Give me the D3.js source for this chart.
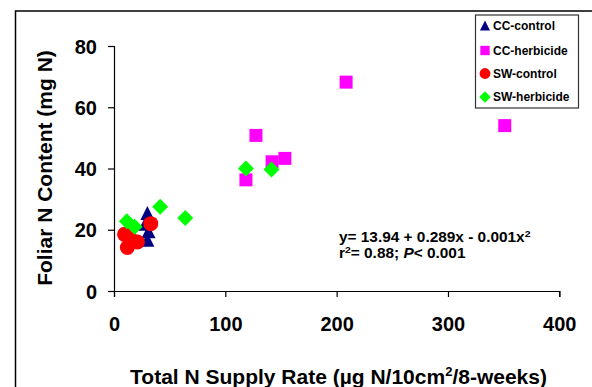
<!DOCTYPE html>
<html>
<head>
  <meta charset="utf-8">
  <script src="https://d3js.org/d3.v7.min.js"></script>
  <style>
    body { margin: 0; background: #fff; }
    text { font-family: "Liberation Sans", Arial, sans-serif; font-weight: bold; fill: #000; }
  </style>
</head>
<body>
<script type="text/javascript">

// values
var ccControlX = [30, 28, 31, 30],
    ccControlY = [25.5, 22, 19.5, 16.7];
var ccHerbX = [118.5, 127.5, 142, 153.5, 208.5, 351],
    ccHerbY = [36.3, 50.8, 42.2, 43.3, 68.2, 54.0];
var swControlX = [9.5, 12, 15, 21, 33],
    swControlY = [18.5, 14.2, 17, 16, 22];
var swHerbX = [11.5, 18.5, 41.5, 64, 118.5, 141.5],
    swHerbY = [22.8, 21, 27.5, 23.8, 40, 39.7];

var xTicks = [0, 100, 200, 300, 400],
    yTicks = [0, 20, 40, 60, 80];
var seriesNames = ["CC-control", "CC-herbicide", "SW-control", "SW-herbicide"];

function draw() {
    "use strict";
    var width = 592, height = 387;

    var svg = d3.select("body")
        .append("svg")
        .attr("width", width)
        .attr("height", height);

    // outer chart frame (runs off the bottom / right)
    svg.append("rect")
        .attr("x", 15.5)
        .attr("y", 11)
        .attr("width", 620)
        .attr("height", 420)
        .style("fill", "none")
        .style("stroke", "#000")
        .style("stroke-width", 1.5);

    var x = d3.scaleLinear().domain([0, 400]).range([114, 559.3]);
    var y = d3.scaleLinear().domain([0, 80]).range([291, 46]);

    // axes
    var xAxis = svg.append("g")
        .attr("transform", "translate(0," + y(0) + ")")
        .call(d3.axisBottom(x).tickValues(xTicks).tickSize(6).tickPadding(20));
    var yAxis = svg.append("g")
        .attr("transform", "translate(" + x(0) + ",0)")
        .call(d3.axisLeft(y).tickValues(yTicks).tickSize(6).tickPadding(11));

    [xAxis, yAxis].forEach(function (g) {
        g.select(".domain").style("stroke", "#000").style("stroke-width", 1.2);
        g.selectAll(".tick line").style("stroke", "#000").style("stroke-width", 1.2);
        g.selectAll(".tick text")
            .style("font-family", "'Liberation Sans', Arial, sans-serif")
            .style("font-weight", "bold")
            .style("font-size", "20px")
            .style("fill", "#000");
    });
    yAxis.selectAll(".tick text").attr("dy", "0.36em");

    // axis titles
    var xt = svg.append("text")
        .attr("x", 338.5)
        .attr("y", 384)
        .style("text-anchor", "middle")
        .style("font-size", "21px");
    xt.append("tspan").text("Total N Supply Rate (\u00b5g N/10cm");
    xt.append("tspan").attr("dy", -8).style("font-size", "13px").text("2");
    xt.append("tspan").attr("dy", 8).text("/8-weeks)");

    svg.append("text")
        .attr("transform", "translate(52," + 168 + ") rotate(-90)")
        .style("text-anchor", "middle")
        .style("font-size", "21px")
        .text("Foliar N Content (mg N)");

    // marker shapes
    function triangle(s) { return "M0," + (-s / 2) + "L" + (s / 2) + "," + (s / 2) + "L" + (-s / 2) + "," + (s / 2) + "Z"; }
    function square(s) { return "M" + (-s / 2) + "," + (-s / 2) + "h" + s + "v" + s + "h" + (-s) + "Z"; }
    function diamond(s) { return "M0," + (-s / 2) + "L" + (s / 2) + ",0L0," + (s / 2) + "L" + (-s / 2) + ",0Z"; }
    function circle(s) { var r = s / 2; return "M" + r + ",0A" + r + "," + r + " 0 1,1 " + (-r) + ",0A" + r + "," + r + " 0 1,1 " + r + ",0Z"; }

    var series = [
        { name: seriesNames[0], xs: ccControlX, ys: ccControlY, shape: triangle, size: 14, color: "#000080" },
        { name: seriesNames[1], xs: ccHerbX, ys: ccHerbY, shape: square, size: 13, color: "#FF00FF" },
        { name: seriesNames[2], xs: swControlX, ys: swControlY, shape: circle, size: 15, color: "#FF0000" },
        { name: seriesNames[3], xs: swHerbX, ys: swHerbY, shape: diamond, size: 16, color: "#00FF00" }
    ];

    series.forEach(function (s) {
        svg.append("g")
            .selectAll("path")
            .data(s.xs.map(function (v, i) { return [v, s.ys[i]]; }))
            .enter()
            .append("path")
            .attr("transform", function (d) { return "translate(" + x(d[0]) + "," + y(d[1]) + ")"; })
            .attr("d", s.shape(s.size))
            .style("fill", s.color);
    });

    // regression annotation (Excel renders it a bit wide)
    var a1 = svg.append("text")
        .attr("transform", "translate(339,242) scale(1.1,1)")
        .style("font-size", "14px");
    a1.append("tspan").text("y= 13.94 + 0.289x - 0.001x");
    a1.append("tspan").attr("dy", -5).style("font-size", "9.5px").text("2");

    var a2 = svg.append("text")
        .attr("transform", "translate(339,257.5) scale(1.1,1)")
        .style("font-size", "14px");
    a2.append("tspan").text("r");
    a2.append("tspan").attr("dy", -5).style("font-size", "9.5px").text("2");
    a2.append("tspan").attr("dy", 5).text("= 0.88; ");
    a2.append("tspan").style("font-style", "italic").text("P");
    a2.append("tspan").text("< 0.001");

    // legend
    var legend = svg.append("g");
    legend.append("rect")
        .attr("x", 475.5)
        .attr("y", 15)
        .attr("width", 103)
        .attr("height", 93)
        .style("fill", "#fff")
        .style("stroke", "#333")
        .style("stroke-width", 1.2);

    var legendY = [25.5, 50.5, 73.5, 97];
    series.forEach(function (s, i) {
        legend.append("path")
            .attr("transform", "translate(485," + legendY[i] + ")")
            .attr("d", s.shape(s.size * 0.72))
            .style("fill", s.color);
        legend.append("text")
            .attr("x", 493)
            .attr("y", legendY[i])
            .attr("dy", "0.36em")
            .style("font-size", "12px")
            .text(s.name);
    });
}

draw();

</script>
</body>
</html>
